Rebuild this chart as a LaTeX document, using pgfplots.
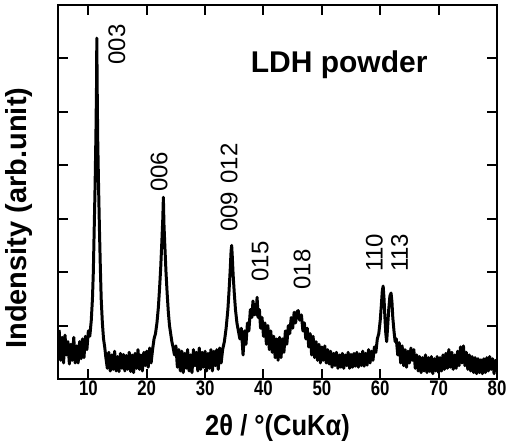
\documentclass[border=0pt]{standalone}
\usepackage{pgfplots}
\pgfplotsset{compat=1.18}
\usepackage{fontspec}
\setmainfont{Liberation Sans}
\newfontfamily\tickfont{Liberation Sans}[FakeStretch=0.8]
\newfontfamily\xlabfont{Liberation Sans}[FakeStretch=0.88]

% XRD pattern (2theta, intensity in arb. units)
\pgfplotstableread{
x y
5.00 0.92
5.25 0.35
5.50 0.78
5.75 0.30
6.00 0.82
6.25 0.45
6.50 0.70
6.75 0.28
7.00 0.65
7.25 0.35
7.50 0.78
7.75 0.30
8.00 0.62
8.25 0.30
8.50 0.70
8.75 0.38
9.00 0.75
9.25 0.40
9.50 0.80
9.75 0.55
10.00 0.90
10.25 0.80
10.50 1.10
10.70 1.50
10.85 2.00
11.00 2.80
11.15 3.60
11.30 4.60
11.40 5.50
11.45 6.38
11.50 5.60
11.60 4.50
11.75 3.60
11.90 2.80
12.05 2.10
12.20 1.50
12.40 1.05
12.60 0.75
12.80 0.60
13.00 0.40
13.25 0.20
13.50 0.50
13.75 0.15
14.00 0.45
14.25 0.18
14.50 0.52
14.75 0.15
15.00 0.42
15.25 0.14
15.50 0.48
15.75 0.20
16.00 0.46
16.25 0.15
16.50 0.44
16.75 0.18
17.00 0.50
17.25 0.14
17.50 0.45
17.75 0.12
18.00 0.48
18.25 0.20
18.50 0.55
18.75 0.18
19.00 0.45
19.25 0.15
19.50 0.50
19.75 0.25
20.00 0.52
20.25 0.22
20.50 0.58
20.75 0.30
21.00 0.55
21.25 0.75
21.50 0.85
21.75 1.05
22.00 1.35
22.20 1.70
22.40 2.10
22.60 2.60
22.75 3.00
22.85 3.40
22.95 2.90
23.10 2.50
23.30 2.00
23.50 1.60
23.70 1.25
23.90 1.00
24.10 0.85
24.30 0.70
24.50 0.60
24.75 0.45
25.00 0.62
25.25 0.22
25.50 0.55
25.75 0.15
26.00 0.52
26.25 0.12
26.50 0.48
26.75 0.20
27.00 0.55
27.25 0.15
27.50 0.45
27.75 0.12
28.00 0.55
28.25 0.25
28.50 0.50
28.75 0.15
29.00 0.58
29.25 0.18
29.50 0.50
29.75 0.22
30.00 0.52
30.25 0.15
30.50 0.48
30.75 0.20
31.00 0.55
31.25 0.15
31.50 0.52
31.75 0.25
32.00 0.55
32.25 0.18
32.50 0.58
32.75 0.30
33.00 0.55
33.30 0.70
33.60 0.95
33.90 1.30
34.10 1.65
34.30 2.05
34.45 2.40
34.55 2.50
34.65 2.30
34.80 1.95
35.00 1.60
35.20 1.30
35.45 1.05
35.70 0.90
35.95 0.75
36.20 0.95
36.50 0.45
36.75 0.90
37.00 0.65
37.25 1.05
37.50 0.90
37.75 1.30
38.00 1.15
38.20 1.46
38.40 1.20
38.60 1.40
38.75 1.20
38.90 1.53
39.10 1.15
39.30 1.30
39.50 0.95
39.75 1.15
40.00 0.80
40.25 1.05
40.50 0.65
40.75 1.00
41.00 0.55
41.25 0.90
41.50 0.50
41.75 0.80
42.00 0.40
42.25 0.75
42.50 0.35
42.75 0.78
43.00 0.40
43.25 0.75
43.50 0.50
43.75 0.90
44.00 0.65
44.25 1.00
44.50 0.85
44.75 1.15
45.00 0.95
45.25 1.25
45.50 1.05
45.75 1.26
45.95 1.28
46.20 1.10
46.50 1.20
46.75 0.90
47.00 1.05
47.25 0.75
47.50 0.95
47.75 0.60
48.00 0.85
48.25 0.45
48.50 0.80
48.75 0.40
49.00 0.70
49.25 0.35
49.50 0.65
49.75 0.30
50.00 0.60
50.25 0.35
50.50 0.62
50.75 0.30
51.00 0.55
51.25 0.28
51.50 0.52
51.75 0.22
52.00 0.48
52.25 0.25
52.50 0.50
52.75 0.20
53.00 0.45
53.25 0.22
53.50 0.48
53.75 0.20
54.00 0.45
54.25 0.25
54.50 0.50
54.75 0.20
55.00 0.46
55.25 0.22
55.50 0.48
55.75 0.24
56.00 0.50
56.25 0.22
56.50 0.47
56.75 0.25
57.00 0.52
57.25 0.24
57.50 0.48
57.75 0.26
58.00 0.55
58.25 0.30
58.50 0.52
58.75 0.35
59.00 0.60
59.25 0.50
59.50 0.75
59.75 0.85
60.00 1.10
60.20 1.40
60.35 1.65
60.50 1.74
60.65 1.50
60.80 1.15
60.95 0.85
61.10 0.70
61.25 0.95
61.45 1.30
61.65 1.55
61.85 1.61
62.00 1.45
62.15 1.15
62.35 0.90
62.55 0.70
62.75 0.75
63.00 0.45
63.25 0.68
63.50 0.30
63.75 0.62
64.00 0.25
64.25 0.55
64.50 0.22
64.75 0.52
65.00 0.30
65.25 0.58
65.50 0.35
65.75 0.55
66.00 0.20
66.25 0.45
66.50 0.15
66.75 0.42
67.00 0.12
67.25 0.40
67.50 0.15
67.75 0.45
68.00 0.12
68.25 0.40
68.50 0.14
68.75 0.42
69.00 0.10
69.25 0.38
69.50 0.15
69.75 0.42
70.00 0.12
70.25 0.40
70.50 0.15
70.75 0.45
71.00 0.18
71.25 0.48
71.50 0.20
71.75 0.55
72.00 0.22
72.25 0.50
72.50 0.18
72.75 0.45
73.00 0.20
73.25 0.52
73.50 0.25
73.75 0.60
74.00 0.30
74.25 0.62
74.50 0.25
74.75 0.50
75.00 0.18
75.25 0.45
75.50 0.15
75.75 0.42
76.00 0.12
76.25 0.40
76.50 0.10
76.75 0.38
77.00 0.12
77.25 0.36
77.50 0.10
77.75 0.38
78.00 0.12
78.25 0.40
78.50 0.15
78.75 0.42
79.00 0.18
79.25 0.38
79.50 0.10
79.75 0.35
80.00 0.20
}\xrd

\begin{document}
\begin{tikzpicture}
\useasboundingbox (-58bp,-69bp) rectangle (452bp,379bp);
\begin{axis}[
    scale only axis,
    width=439bp, height=374bp,
    xmin=4.8, xmax=80, ymin=0, ymax=7,
    xtick={10,20,...,80},
    ytick={1,...,6}, yticklabels={},
    tick align=inside,
    major tick length=10bp,
    every tick/.style={black, line width=2pt},
    axis line style={line width=2.4pt},
    /pgf/number format/assume math mode=true,
    xticklabel style={font=\tickfont\bfseries\fontsize{21bp}{21bp}\selectfont, inner sep=2bp},
    xlabel={2θ / °(CuKα)},
    xlabel style={font=\xlabfont\bfseries\fontsize{29bp}{29bp}\selectfont,
        at={(axis description cs:0.5,-0.150)}, anchor=base},
    ylabel={Indensity (arb.unit)},
    ylabel style={font=\bfseries\fontsize{29bp}{29bp}\selectfont,
        at={(axis description cs:-0.089,0.43)}, anchor=center},
]
\addplot[black, line width=3pt, line join=round] table[x=x, y=y] {\xrd};

\begin{scope}[every node/.style={rotate=90, anchor=west, inner sep=0pt,
        font=\fontsize{24bp}{24bp}\selectfont}]
\node at (axis cs:14.9,5.88) {003};
\node at (axis cs:22.1,3.50) {006};
\node at (axis cs:34.1,2.75) {009\hspace{0.35em}012};
\node at (axis cs:39.4,1.82) {015};
\node at (axis cs:46.6,1.67) {018};
\node at (axis cs:59.0,2.00) {110};
\node at (axis cs:63.3,2.00) {113};
\end{scope}
\node[anchor=base, inner sep=0pt, font=\bfseries\fontsize{30bp}{30bp}\selectfont]
    at (axis cs:52.97,5.73) {LDH powder};
\end{axis}
\end{tikzpicture}
\end{document}
